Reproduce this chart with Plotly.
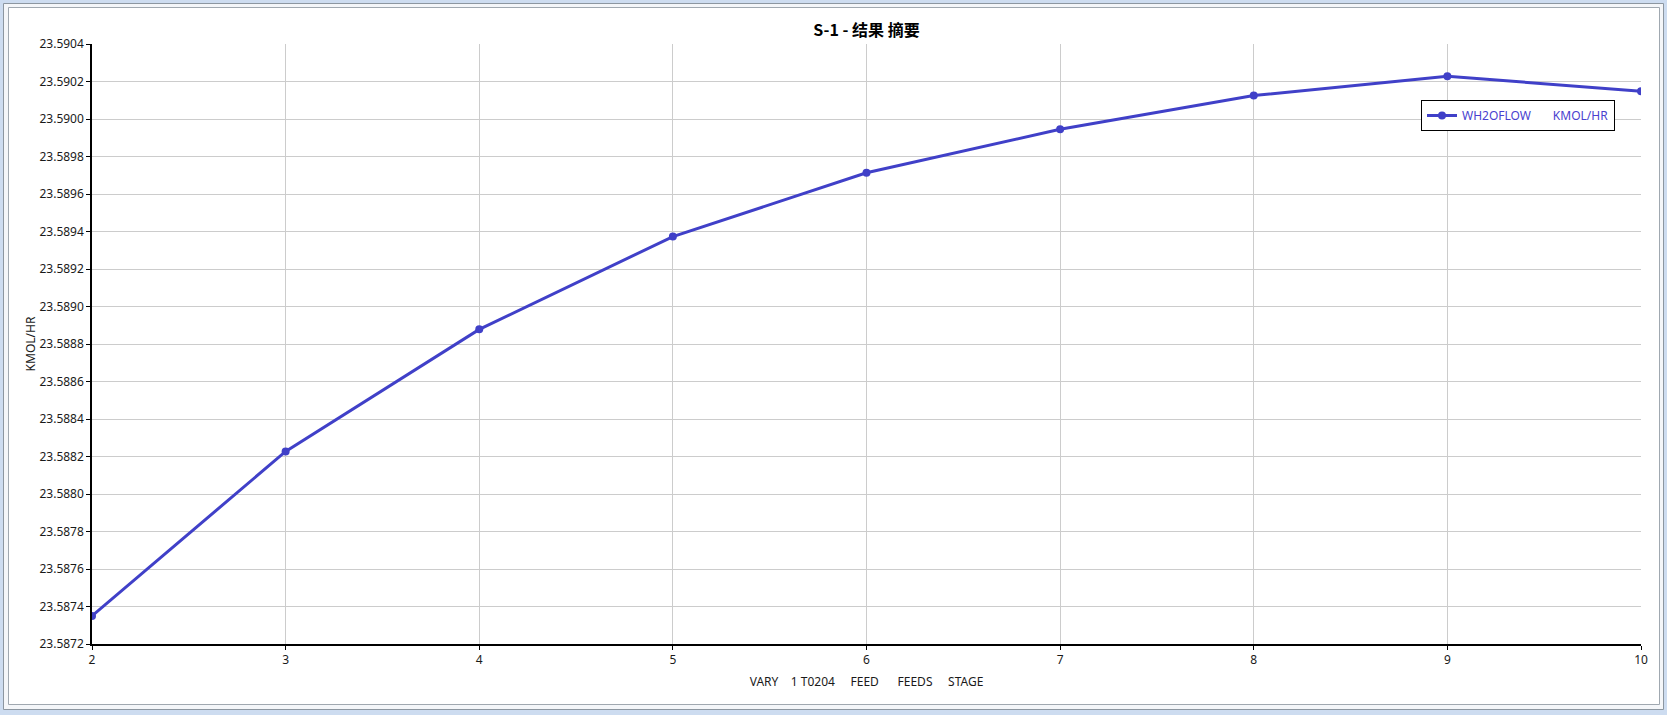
import plotly.graph_objects as go

stages = [2, 3, 4, 5, 6, 7, 8, 9, 10]
wh2oflow = [23.58735, 23.588227, 23.588878, 23.589373, 23.589713, 23.589945, 23.590125, 23.590228, 23.590148]
series_name = "WH2OFLOW" + "\u00a0" * 7 + "KMOL/HR"
title_text = "S-1 - 结果 摘要"
x_title = ("VARY" + "\u00a0" * 4 + "1 T0204" + "\u00a0" * 5 + "FEED" + "\u00a0" * 6
           + "FEEDS" + "\u00a0" * 5 + "STAGE")
y_title = "KMOL/HR"

W, H = 1667, 715
L, R, T, B = 92, 1641, 44, 644
pw, ph = R - L, B - T

def px(x):
    return (x - L) / pw

def py(y):
    return (B - y) / ph

color = "#4040c8"
font = "Noto Sans, Open Sans, sans-serif"

fig = go.Figure()
fig.add_trace(go.Scatter(
    x=stages, y=wh2oflow, mode="lines+markers", name=series_name,
    line=dict(color=color, width=3),
    marker=dict(color=color, size=8),
))

shapes = [
    dict(type="rect", xref="paper", yref="paper", x0=px(3.5), x1=px(1663.5), y0=py(3.5), y1=py(709.5),
         line=dict(color="#8c96a0", width=1), fillcolor="#f4f6f9", layer="below"),
    dict(type="rect", xref="paper", yref="paper", x0=px(8.5), x1=px(1659.5), y0=py(7.5), y1=py(704.5),
         line=dict(color="#a0a8b0", width=1), fillcolor="white", layer="below"),
]

fig.update_layout(
    width=W, height=H,
    margin=dict(l=L, r=W - R, t=T, b=H - B),
    paper_bgcolor="#cddcf0",
    plot_bgcolor="rgba(0,0,0,0)",
    shapes=shapes,
    title=dict(text="<b>" + title_text + "</b>", x=0.5, xref="paper", xanchor="center",
               y=1 - 30 / H, yanchor="middle",
               font=dict(family="Noto Sans CJK SC, sans-serif", size=16, color="black")),
    font=dict(family=font, size=12, color="#1a1a1a"),
    showlegend=True,
    legend=dict(x=px(1421), y=py(100), xanchor="left", yanchor="top",
                bgcolor="white", bordercolor="black", borderwidth=1,
                font=dict(family=font, size=12, color="#4a3fcf"),
                itemwidth=30),
    xaxis=dict(
        range=[2, 10], tickmode="linear", tick0=2, dtick=1,
        showgrid=True, gridcolor="#cccccc", gridwidth=1,
        showline=True, linecolor="black", linewidth=1.5,
        ticks="outside", ticklen=4, tickcolor="black",
        zeroline=False,
        tickfont=dict(family=font, size=12, color="#1a1a1a"),
        title=dict(text=x_title, standoff=10, font=dict(family=font, size=12, color="#1a1a1a")),
    ),
    yaxis=dict(
        range=[23.5872, 23.5904],
        tickvals=[23.5872 + 0.0002 * i for i in range(17)],
        tickformat=".4f",
        showgrid=True, gridcolor="#cccccc", gridwidth=1,
        showline=True, linecolor="black", linewidth=1.5,
        ticks="outside", ticklen=4, tickcolor="black",
        zeroline=False,
        tickfont=dict(family=font, size=12, color="#1a1a1a"),
        title=dict(text=y_title, standoff=0, font=dict(family=font, size=12, color="#1a1a1a")),
    ),
)

fig.write_html(
    "out.html",
    config={"displayModeBar": False},
    post_script="document.body.style.margin='0';document.body.style.overflow='hidden';",
)
